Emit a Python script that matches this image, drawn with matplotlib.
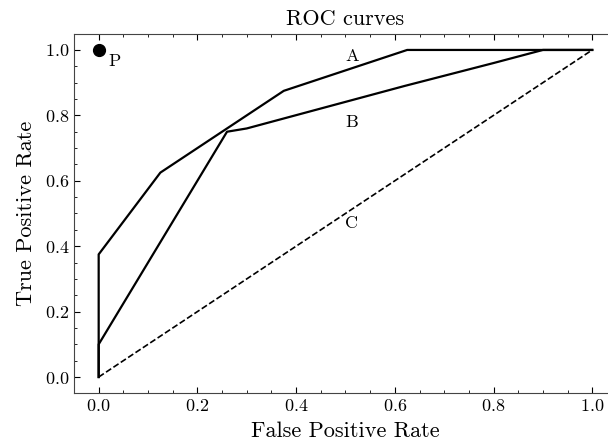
import matplotlib
matplotlib.use("Agg")
import matplotlib.pyplot as plt
from matplotlib.ticker import MultipleLocator

plt.rcParams["font.family"] = "serif"
plt.rcParams["font.serif"] = ["cmr10"]
plt.rcParams["mathtext.fontset"] = "cm"
plt.rcParams["axes.formatter.use_mathtext"] = True

# ROC curve A
fpr_a = [0.0, 0.0, 0.125, 0.2, 0.25, 0.375, 0.625, 1.0]
tpr_a = [0.0, 0.375, 0.625, 0.7, 0.75, 0.875, 1.0, 1.0]

# ROC curve B
fpr_b = [0.0, 0.0, 0.26, 0.3, 0.62, 0.8, 0.9, 1.0]
tpr_b = [0.0, 0.1, 0.75, 0.76, 0.89, 0.96, 1.0, 1.0]

# random classifier C
fpr_c = [0.0, 1.0]
tpr_c = [0.0, 1.0]

# perfect classifier P
p_point = (0.0, 1.0)

labels = ["A", "B", "C", "P"]
label_pos = [(0.5, 0.965), (0.5, 0.765), (0.5, 0.455), (0.02, 0.952)]

fig = plt.figure(figsize=(6.08, 4.45), dpi=100)
ax = fig.add_axes([0.1217, 0.116, 0.893, 0.8085])

ax.plot(fpr_a, tpr_a, color="black", lw=1.6)
ax.plot(fpr_b, tpr_b, color="black", lw=1.6)
ax.plot(fpr_c, tpr_c, color="black", lw=1.2, ls="--")
ax.plot(*p_point, "o", color="black", markersize=8.5)

for lab, (x, y) in zip(labels, label_pos):
    ax.text(x, y, lab, fontsize=13, ha="left", va="baseline")

ax.set_xlim(-0.05, 1.05)
ax.set_ylim(-0.05, 1.05)
ax.xaxis.set_major_locator(MultipleLocator(0.2))
ax.xaxis.set_minor_locator(MultipleLocator(0.05))
ax.yaxis.set_major_locator(MultipleLocator(0.2))
ax.yaxis.set_minor_locator(MultipleLocator(0.05))
ax.tick_params(which="both", direction="in", top=True, right=True, labelsize=13)
ax.tick_params(which="major", length=4)
ax.tick_params(which="minor", length=2)
for s in ax.spines.values():
    s.set_color("#444444")

ax.set_title("ROC curves", fontsize=16, pad=6)
ax.set_xlabel("False Positive Rate", fontsize=16, labelpad=5)
ax.set_ylabel("True Positive Rate", fontsize=16, labelpad=6)

fig.savefig("out.png", dpi=100)
